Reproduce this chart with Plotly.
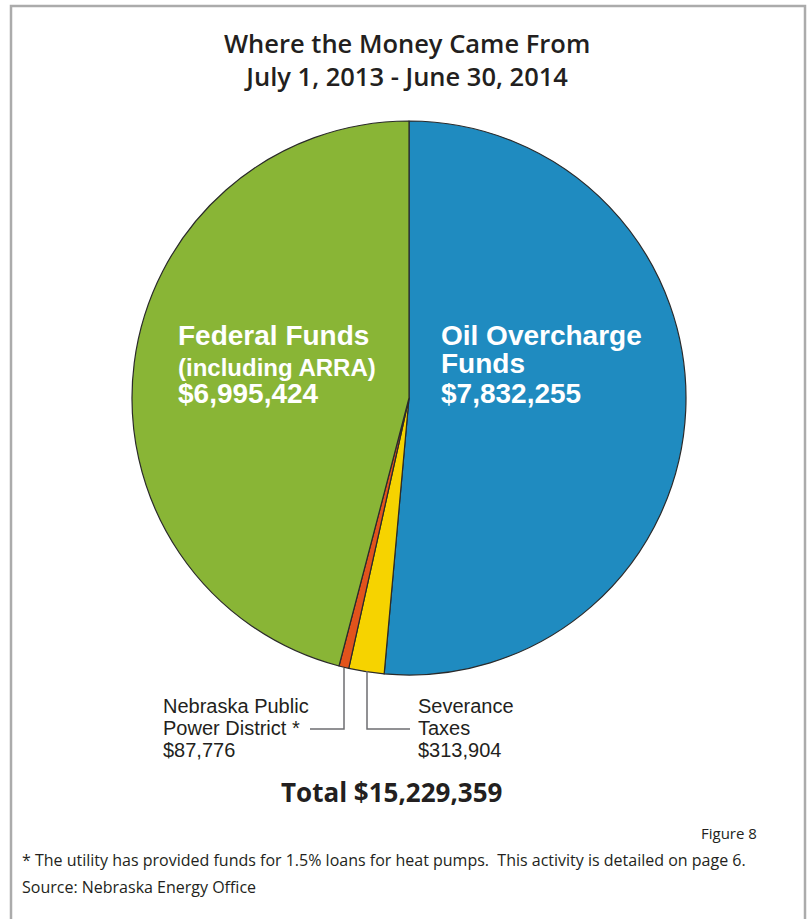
import plotly.graph_objects as go

W, H = 807, 919

categories = ["Oil Overcharge Funds", "Severance Taxes", "Nebraska Public Power District *", "Federal Funds (including ARRA)"]
values = [7832255, 313904, 87776, 6995424]
colors = ["#1f8bc0", "#f6d300", "#e2531c", "#89b536"]
total = sum(values)

def px(x):
    return x / W

def py(y):
    return 1 - y / H

fig = go.Figure(go.Pie(
    labels=categories,
    values=values,
    sort=False,
    direction="clockwise",
    rotation=0,
    marker=dict(colors=colors, line=dict(color="#2a2a2a", width=1.2)),
    textinfo="none",
    hoverinfo="label+value",
    showlegend=False,
    domain=dict(x=[px(132), px(686)], y=[py(675), py(121)]),
))

def fmt(v):
    return "${:,}".format(v)

ann = []
white = "white"
sans = "Liberation Sans, Arial, sans-serif"
title_font = "Open Sans, sans-serif"
dark = "#231f20"

# Title
ann.append(dict(x=px(407), y=py(59.5), text="Where the Money Came From<br>July 1, 2013 - June 30, 2014", showarrow=False,
                xanchor="center", yanchor="middle", align="center",
                font=dict(family=title_font, size=25.5, weight=600, color=dark)))

# Federal
ann.append(dict(x=px(176), y=py(335), text="<b>Federal Funds</b>", showarrow=False, xanchor="left", yanchor="middle",
                font=dict(family=sans, size=28, color=white)))
ann.append(dict(x=px(176), y=py(367), text="<b>(including ARRA)</b>", showarrow=False, xanchor="left", yanchor="middle",
                font=dict(family=sans, size=24, color=white)))
ann.append(dict(x=px(176), y=py(393), text="<b>" + fmt(values[3]) + "</b>", showarrow=False, xanchor="left", yanchor="middle",
                font=dict(family=sans, size=28, color=white)))

# Oil
ann.append(dict(x=px(439), y=py(335), text="<b>Oil Overcharge</b>", showarrow=False, xanchor="left", yanchor="middle",
                font=dict(family=sans, size=28, color=white)))
ann.append(dict(x=px(439), y=py(364), text="<b>Funds</b>", showarrow=False, xanchor="left", yanchor="middle",
                font=dict(family=sans, size=28, color=white)))
ann.append(dict(x=px(439), y=py(393), text="<b>" + fmt(values[0]) + "</b>", showarrow=False, xanchor="left", yanchor="middle",
                font=dict(family=sans, size=28, color=white)))

# Small labels
for i, t in enumerate(["Nebraska Public", "Power District *", fmt(values[2])]):
    ann.append(dict(x=px(161), y=py(706 + 22 * i), text=t, showarrow=False, xanchor="left", yanchor="middle",
                    font=dict(family=sans, size=20, color=dark)))
for i, t in enumerate(["Severance", "Taxes", fmt(values[1])]):
    ann.append(dict(x=px(416), y=py(706 + 22 * i), text=t, showarrow=False, xanchor="left", yanchor="middle",
                    font=dict(family=sans, size=20, color=dark)))

# Total
ann.append(dict(x=px(391), y=py(792), text="<b>Total " + fmt(total) + "</b>", showarrow=False, xanchor="center", yanchor="middle",
                font=dict(family=title_font, size=26, color=dark)))

# Footnotes
ann.append(dict(x=px(759), y=py(833), text="Figure 8", showarrow=False, xanchor="right", yanchor="middle",
                font=dict(family=title_font, size=15, color=dark)))
ann.append(dict(x=px(20), y=py(860), text="* The utility has provided funds for 1.5% loans for heat pumps.  This activity is detailed on page 6.",
                showarrow=False, xanchor="left", yanchor="middle", font=dict(family=title_font, size=16, color=dark)))
ann.append(dict(x=px(20), y=py(887), text="Source: Nebraska Energy Office", showarrow=False, xanchor="left", yanchor="middle",
                font=dict(family=title_font, size=16, color=dark)))

line_style = dict(color="#6d6e71", width=1.5)
shapes = [
    dict(type="rect", xref="paper", yref="paper", x0=px(11), x1=px(805), y0=py(930), y1=py(6),
         line=dict(color="#ababab", width=2.5), fillcolor="rgba(0,0,0,0)", layer="below"),
    # NPPD leader
    dict(type="path", xref="paper", yref="paper",
         path=f"M {px(344)} {py(668)} L {px(344)} {py(729)} L {px(310)} {py(729)}", line=line_style),
    # Severance leader
    dict(type="path", xref="paper", yref="paper",
         path=f"M {px(367)} {py(671)} L {px(367)} {py(729)} L {px(410)} {py(729)}", line=line_style),
]

fig.update_layout(
    width=W, height=H,
    margin=dict(l=0, r=0, t=0, b=0),
    paper_bgcolor="white",
    plot_bgcolor="white",
    annotations=ann,
    shapes=shapes,
)

fig.write_html("out.html", config={"displayModeBar": False},
               post_script="document.body.style.margin='0';document.body.style.overflow='hidden';")
